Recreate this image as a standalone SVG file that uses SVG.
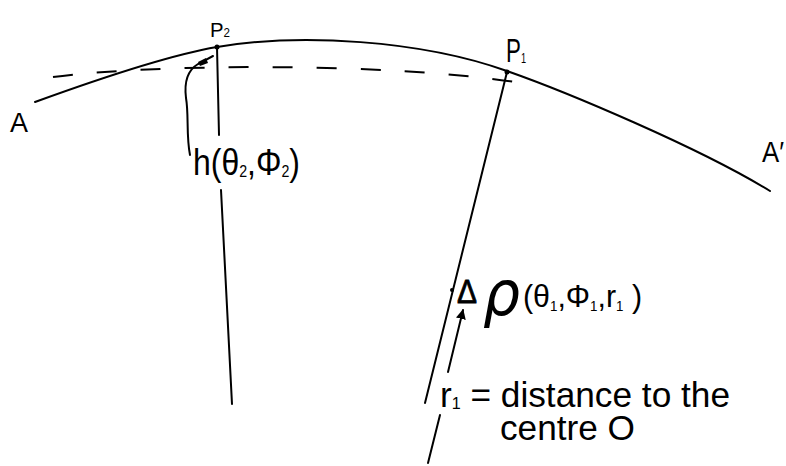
<svg xmlns="http://www.w3.org/2000/svg" width="786" height="466" viewBox="0 0 786 466">
  <style>
    .ln { fill: none; stroke: #000; stroke-width: 2; stroke-linecap: round; }
    .dash { fill: none; stroke: #000; stroke-width: 2; stroke-dasharray: 20 24; }
    .t { font-family: "Liberation Sans", "DejaVu Sans", sans-serif; fill: #000; }
    .g { font-family: "DejaVu Sans", "Liberation Sans", sans-serif; fill: #000; }
    .dot { fill: #000; }
  </style>
  <defs>
    <marker id="ah" viewBox="0 0 10 10" refX="9" refY="5" markerWidth="5" markerHeight="5" orient="auto" markerUnits="strokeWidth">
      <path d="M0,0 L10,5 L0,10 z" fill="#000"/>
    </marker>
  </defs>
  <rect width="786" height="466" fill="#fff"/>

  <g id="curve-AA">
    <path class="ln" d="M35,102 C90,82 170,55 217,47 C300,33 420,40 507,71 C567,92 700,148 770,191"/>
  </g>
  <g id="chord">
    <path class="dash" d="M53,77 C150,64 380,62 515,82"/>
  </g>

  <g id="connectors">
    <line class="ln" x1="217" y1="47" x2="219" y2="135"/>
    <line class="ln" x1="221" y1="190" x2="232" y2="404"/>
    <line class="ln" x1="507" y1="72" x2="425" y2="403"/>
    <line class="ln" x1="440" y1="415" x2="428" y2="463"/>
    <path class="ln" d="M190,155 C186,135 189,115 186,98 C184,82 188,70 198,64 L213,56"/>
    <path class="dot" d="M198,62 L206,58 L208,63 L200,66 z"/>
    <line class="ln" x1="448" y1="372" x2="463" y2="310" marker-end="url(#ah)"/>
  </g>

  <g id="point-P2">
    <circle class="dot" cx="217" cy="47" r="2.5"/>
    <text class="t" x="210" y="37" font-size="21" textLength="20" lengthAdjust="spacingAndGlyphs">P<tspan font-size="12" dy="0">2</tspan></text>
  </g>
  <g id="point-P1">
    <circle class="dot" cx="507" cy="72" r="2.5"/>
    <text class="t" x="506" y="62" font-size="34" textLength="20" lengthAdjust="spacingAndGlyphs">P<tspan font-size="14" dy="1">1</tspan></text>
  </g>
  <g id="label-A">
    <text class="t" x="10" y="132" font-size="27" textLength="18" lengthAdjust="spacingAndGlyphs">A</text>
  </g>
  <g id="label-A2">
    <text class="t" x="762" y="162" font-size="30" textLength="22" lengthAdjust="spacingAndGlyphs">A′</text>
  </g>
  <g id="label-h">
    <text class="t" x="193" y="175" font-size="36" textLength="107" lengthAdjust="spacingAndGlyphs">h(θ<tspan font-size="16" dy="2">2</tspan><tspan dy="-2">,Φ</tspan><tspan font-size="16" dy="2">2</tspan><tspan dy="-2">)</tspan></text>
  </g>
  <g id="label-rho">
    <circle class="dot" cx="452" cy="290" r="2"/>
    <text class="t" x="457" y="303" font-size="33" stroke="#000" stroke-width="0.8" textLength="20" lengthAdjust="spacingAndGlyphs">Δ</text>
    <text class="g" x="483" y="315" font-size="62" font-style="italic" textLength="37" lengthAdjust="spacingAndGlyphs">ρ</text>
    <text class="t" x="523" y="307" font-size="32" textLength="119" lengthAdjust="spacingAndGlyphs">(θ<tspan font-size="14" dy="4">1</tspan><tspan dy="-4">,Φ</tspan><tspan font-size="14" dy="4">1</tspan><tspan dy="-4">,r</tspan><tspan font-size="14" dy="4">1</tspan><tspan dy="-4"> )</tspan></text>
  </g>
  <g id="label-r1">
    <text class="t" x="440" y="407" font-size="35" textLength="290" lengthAdjust="spacingAndGlyphs">r<tspan font-size="16" dy="2">1</tspan><tspan dy="-2"> = distance to the</tspan></text>
    <text class="t" x="500" y="440" font-size="35" textLength="135" lengthAdjust="spacingAndGlyphs">centre O</text>
  </g>
</svg>
